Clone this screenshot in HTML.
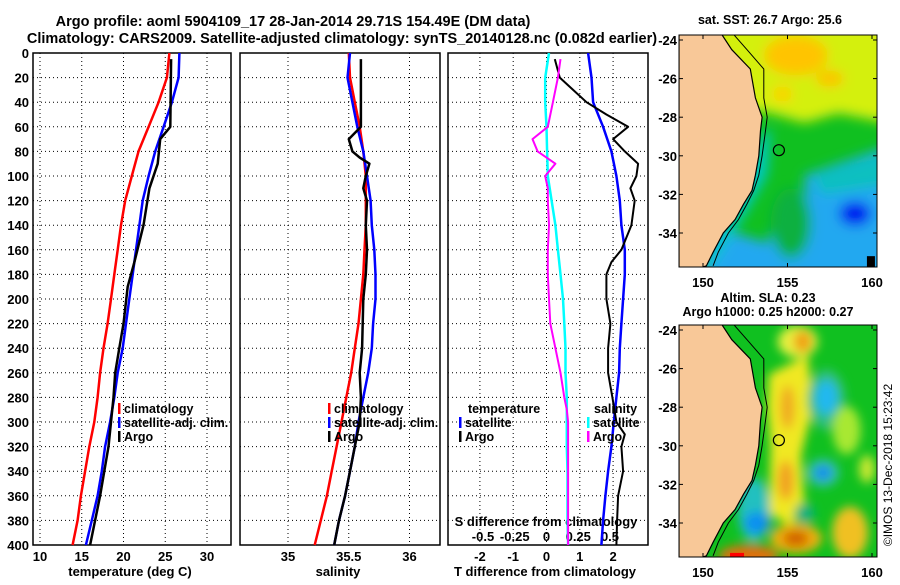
<!DOCTYPE html>
<html><head><meta charset="utf-8"><style>
html,body{margin:0;padding:0;background:#fff}
svg text{font-family:"Liberation Sans",sans-serif;font-weight:bold;font-size:13px;fill:#000}
</style></head><body>
<svg id="c" width="900" height="580" viewBox="0 0 900 580" xmlns="http://www.w3.org/2000/svg">
<defs>
<filter id="blur1" x="-50%" y="-50%" width="200%" height="200%"><feGaussianBlur stdDeviation="6"/></filter>
<filter id="blur2" x="-50%" y="-50%" width="200%" height="200%"><feGaussianBlur stdDeviation="5"/></filter>
<clipPath id="clipm1"><rect x="679" y="35" width="198" height="232"/></clipPath>
<clipPath id="clipm2"><rect x="679" y="325" width="198" height="232"/></clipPath>
</defs>
<text x="293" y="26" text-anchor="middle" style="font-size:14.5px">Argo profile: aoml 5904109_17 28-Jan-2014 29.71S 154.49E (DM data)</text>
<text x="342" y="43" text-anchor="middle" style="font-size:14.5px">Climatology: CARS2009. Satellite-adjusted climatology: synTS_20140128.nc (0.082d earlier)</text>
<text x="770" y="24" text-anchor="middle" style="font-size:12.5px">sat. SST: 26.7 Argo: 25.6</text>
<text x="768" y="302" text-anchor="middle" style="font-size:12.5px">Altim. SLA: 0.23</text>
<text x="768" y="316" text-anchor="middle" style="font-size:12.5px">Argo h1000: 0.25 h2000: 0.27</text>
<text transform="translate(892,465) rotate(-90)" text-anchor="middle" style="font-weight:normal;font-size:12px">©IMOS 13-Dec-2018 15:23:42</text>
<g id="g"></g>
</svg>
<script>
// ---- data ----
const climDepth=[0,20,40,60,80,100,120,140,160,180,200,220,240,260,280,300,320,340,360,380,400];
const tempClim=[25.5,25.2,24.2,23,21.8,21,20.2,19.7,19.3,18.9,18.5,18.1,17.6,17.2,16.9,16.5,15.9,15.4,14.9,14.5,13.9];
const tempSat=[26.7,26.6,25.8,24.8,23.8,23,22.3,21.9,21.5,21.1,20.7,20.3,19.9,19.3,18.9,18.4,17.8,17.4,16.9,16.2,15.5];
const argoTDepth=[5,60,70,90,110,140,170,190,220,240,260,280,300,320,340,360,380,400];
const tempArgo=[25.7,25.6,24.4,24.1,23.1,22.4,21.3,20.5,20,19.5,19,18.8,18.5,18.2,17.7,17.2,16.6,16.0];
const salClim=[35.50,35.51,35.55,35.59,35.62,35.64,35.64,35.64,35.63,35.62,35.60,35.58,35.55,35.52,35.48,35.44,35.40,35.36,35.32,35.27,35.22];
const salSat=[35.51,35.49,35.53,35.57,35.62,35.65,35.68,35.69,35.71,35.72,35.72,35.70,35.69,35.66,35.62,35.58,35.55,35.51,35.47,35.42,35.38];
const argoSDepth=[5,60,70,80,85,90,100,110,120,140,160,180,200,240,260,280,300,320,340,360,380,400];
const salArgo=[35.60,35.60,35.50,35.53,35.59,35.67,35.64,35.62,35.65,35.64,35.65,35.64,35.62,35.61,35.59,35.60,35.59,35.55,35.51,35.47,35.42,35.38];
const tDiffSat=[1.25,1.35,1.4,1.7,1.95,2.1,2.2,2.25,2.35,2.35,2.3,2.25,2.2,2.18,2.1,2.02,1.95,1.85,1.77,1.7,1.65];
const tDiffDepth=[5,20,30,40,50,60,70,80,90,100,110,120,140,160,170,180,200,220,240,260,280,300,310,320,340,360,380,400];
const tDiffArgo=[0.25,0.4,0.8,1.2,1.8,2.45,2.0,2.35,2.75,2.7,2.52,2.65,2.55,2.25,1.95,1.8,1.8,1.92,1.85,1.85,1.98,2.1,2.35,2.25,2.3,2.15,2.12,2.1];
const sDiffSat=[0.02,-0.01,-0.01,0,0.005,0.01,0.04,0.07,0.09,0.11,0.13,0.14,0.15,0.15,0.16,0.16,0.16,0.165,0.165,0.165,0.17];
const sDiffDepth=[5,20,40,60,70,80,90,100,110,120,140,160,180,200,220,240,260,280,290,300,320,340,360,380,400];
const sDiffArgo=[0.11,0.09,0.05,0.01,-0.11,-0.07,0.07,-0.01,0.01,0.01,0.02,0.01,0.01,0.02,0.03,0.07,0.11,0.14,0.16,0.17,0.17,0.17,0.17,0.17,0.17];
const depthTicks=[0,20,40,60,80,100,120,140,160,180,200,220,240,260,280,300,320,340,360,380,400];
const tempTicks=[10,15,20,25,30];
const salTicks=[35,35.5,36];
const tdTicks=[-2,-1,0,1,2];
const sdTicks=[-0.5,-0.25,0,0.25,0.5];
const sdTickLabels=["-0.5","-0.25","0","0.25","0.5"];
const latTicks=[-24,-26,-28,-30,-32,-34];
const lonTicks=[150,155,160];
const argoLon=154.49, argoLat=-29.71;

// ---- axes ----
const PT=53, PB=545;
const Y=d=>PT+d*(PB-PT)/400;
const XT=t=>40+(t-10)*(207-40)/20;
const XS=s=>288+(s-35)*121.5;
const XTD=t=>546.5+t*33.3;
const XSD=s=>546.5+s*127;
const LX=l=>703+(l-150)*16.9;
const LY=(l,off)=>40+off+(-24-l)*19.3;

const NS="http://www.w3.org/2000/svg";
const g=document.getElementById('g');
function el(tag,attrs,parent){const e=document.createElementNS(NS,tag);for(const k in attrs)e.setAttribute(k,attrs[k]);(parent||g).appendChild(e);return e;}
function txt(x,y,s,anchor){const e=el('text',{x:x,y:y,'text-anchor':anchor||'start'});e.textContent=s;return e;}

const panels=[{x0:33,x1:231,name:'temperature-panel'},{x0:240,x1:440,name:'salinity-panel'},{x0:448,x1:648,name:'difference-panel'}];
panels.forEach((p,i)=>{
  const r=el('rect',{x:p.x0,y:PT,width:p.x1-p.x0,height:PB-PT,fill:'#fff',stroke:'#000','stroke-width':1.5});
  
  
  depthTicks.forEach(d=>{
    if(d>0&&d<400){const l=el('line',{x1:p.x0,x2:p.x1,y1:Y(d),y2:Y(d),stroke:'#000','stroke-dasharray':'1,3','stroke-width':1});
    
    }
  });
});
function vgrid(ticks,fx,p){ticks.forEach(t=>{const x=fx(t);if(x>p.x0+1&&x<p.x1-1){const l=el('line',{x1:x,x2:x,y1:PT,y2:PB,stroke:'#000','stroke-dasharray':'1,3'});

}});}
vgrid(tempTicks,XT,panels[0]);vgrid(salTicks,XS,panels[1]);vgrid(tdTicks,XTD,panels[2]);
depthTicks.forEach(d=>{const t=txt(29,Y(d)+5,String(d),'end');

});
tempTicks.forEach(v=>{const t=txt(XT(v),561,String(v),'middle');

});
salTicks.forEach(v=>{const t=txt(XS(v),561,String(v),'middle');

});
tdTicks.forEach(v=>{const t=txt(XTD(v),561,String(v),'middle');

});
sdTicks.forEach((v,i)=>{const t=txt(XSD(v),541,sdTickLabels[i],'middle');

});
let t1=txt(130,576,'temperature (deg C)','middle');
let t2=txt(338,576,'salinity','middle');
let t3=txt(545,576,'T difference from climatology','middle');
let t4=txt(546,526,'S difference from climatology','middle');

function line(depths,vals,fx,color,w,name){
  const pts=depths.map((d,i)=>fx(vals[i]).toFixed(1)+','+Y(d).toFixed(1)).join(' ');
  const e=el('polyline',{points:pts,fill:'none',stroke:color,'stroke-width':w,'stroke-linejoin':'round'});
  
  
}
line(climDepth,tempClim,XT,'#f00',2.5,'temp-climatology-line');
line(climDepth,tempSat,XT,'#00f',2.5,'temp-satellite-line');
line(argoTDepth,tempArgo,XT,'#000',2.5,'temp-argo-line');
line(climDepth,salClim,XS,'#f00',2.5,'sal-climatology-line');
line(climDepth,salSat,XS,'#00f',2.5,'sal-satellite-line');
line(argoSDepth,salArgo,XS,'#000',2.5,'sal-argo-line');
line(climDepth,tDiffSat,XTD,'#00f',2.5,'tdiff-satellite-line');
line(tDiffDepth,tDiffArgo,XTD,'#000',2,'tdiff-argo-line');
line(climDepth,sDiffSat,XSD,'#0ff',2.5,'sdiff-satellite-line');
line(sDiffDepth,sDiffArgo,XSD,'#f0f',2,'sdiff-argo-line');

function legend(x,y,color,label,name){
  const b=el('rect',{x:x,y:y-10,width:2.5,height:11,fill:color});
  
  
  const t=txt(x+6,y,label);
  t.style.fontSize='12.5px';
  
  
}
legend(118,413,'#f00','climatology','legend-climatology');
legend(118,427,'#00f','satellite-adj. clim.','legend-satellite-adj');
legend(118,441,'#000','Argo','legend-argo');
legend(328,413,'#f00','climatology','legend-climatology-sal');
legend(328,427,'#00f','satellite-adj. clim.','legend-satellite-adj-sal');
legend(328,441,'#000','Argo','legend-argo-sal');
let lt=txt(468,413,'temperature');lt.style.fontSize='12.5px';
legend(459,427,'#00f','satellite','legend-t-satellite');
legend(459,441,'#000','Argo','legend-t-argo');
let ls=txt(594,413,'salinity');ls.style.fontSize='12.5px';
legend(587,427,'#0ff','satellite','legend-s-satellite');
legend(587,441,'#f0f','Argo','legend-s-argo');

// ---- maps ----
const coastLat=[-23.7,-24.5,-25.5,-27,-28,-28.7,-30,-31,-31.8,-32.5,-33.3,-34,-35,-35.7];
const coastLon=[151.1,151.7,152.8,153.1,153.5,153.4,153.3,153.1,152.9,152.4,151.9,151.2,150.6,150.2];
const shelfLon=[151.8,152.6,153.6,153.6,153.8,153.7,153.5,153.3,153.0,152.6,152.1,151.5,150.9,150.6];
function drawMap(off,kind){
  const top=35+off;
  const clip=off===0?'url(#clipm1)':'url(#clipm2)';
  const grp=el('g',{'clip-path':clip});
  
  
  const P=(lo,la)=>LX(lo).toFixed(1)+','+LY(la,off).toFixed(1);
  if(kind==='sst'){
    el('rect',{x:679,y:top,width:198,height:232,fill:'#10c020'},grp);
    const b=el('g',{filter:'url(#blur1)'},grp);
    el('polygon',{points:[P(150,-22),P(161,-22),P(161,-28.3),P(158,-27.8),P(156,-28.3),P(154,-27.8),P(152,-27.5)].join(' '),fill:'#d4f010'},b);
    el('ellipse',{cx:LX(155.5),cy:LY(-24.8,off),rx:32,ry:20,fill:'#ffc400'},b);
    el('ellipse',{cx:LX(157.5),cy:LY(-26,off),rx:14,ry:8,fill:'#ffc000'},b);
    el('ellipse',{cx:LX(154.7),cy:LY(-26.8,off),rx:10,ry:8,fill:'#ffd000'},b);
    el('polygon',{points:[P(156,-31),P(161,-29.5),P(161,-37),P(150,-37),P(150,-33.5),P(153.8,-34.5),P(154,-34),P(156.2,-34)].join(' '),fill:'#20a8f0'},b);
    el('polygon',{points:[P(156.5,-31),P(161,-29.8),P(161,-31.5),P(157,-32)].join(' '),fill:'#10c0c0'},b);
    el('ellipse',{cx:LX(155.2),cy:LY(-33.5,off),rx:20,ry:35,fill:'#10b040'},b);
    el('ellipse',{cx:LX(159),cy:LY(-33,off),rx:16,ry:12,fill:'#0010f0'},b);
    el('polygon',{points:[P(153.6,-28.7),P(154,-28.7),P(153.8,-31),P(152.5,-33),P(150.5,-35.7),P(150,-35.7)].join(' '),fill:'#00c8c0'},b);
    el('rect',{x:LX(159.7),y:LY(-35.2,off),width:8,height:12,fill:'#000'},grp);
  } else {
    el('rect',{x:679,y:top,width:198,height:232,fill:'#10c020'},grp);
    const b=el('g',{filter:'url(#blur2)'},grp);
    el('polygon',{points:[P(153.9,-26.3),P(156.2,-25.3),P(156.5,-28),P(155.8,-30.5),P(156,-33),P(155.2,-34.2),P(153.9,-33.5),P(154,-30),P(153.8,-28)].join(' '),fill:'#f0e820'},b);
    el('ellipse',{cx:LX(155.6),cy:LY(-24.6,off),rx:20,ry:16,fill:'#e8f040'},b);
    el('ellipse',{cx:LX(155.9),cy:LY(-24.6,off),rx:9,ry:11,fill:'#f0a010'},b);
    el('ellipse',{cx:LX(155),cy:LY(-28,off),rx:7,ry:22,fill:'#f0a820'},b);
    el('ellipse',{cx:LX(154.9),cy:LY(-31.8,off),rx:8,ry:20,fill:'#f0a020'},b);
    el('ellipse',{cx:LX(157.3),cy:LY(-27.6,off),rx:19,ry:30,fill:'#30c080'},b);
    el('ellipse',{cx:LX(157.3),cy:LY(-27.5,off),rx:11,ry:17,fill:'#20b8f0'},b);
    el('ellipse',{cx:LX(157.1),cy:LY(-31.4,off),rx:16,ry:14,fill:'#30c0b0'},b);
    el('ellipse',{cx:LX(157.1),cy:LY(-31.4,off),rx:8,ry:7,fill:'#1088f0'},b);
    el('ellipse',{cx:LX(153),cy:LY(-33.3,off),rx:16,ry:32,fill:'#20c0c0'},b);
    el('ellipse',{cx:LX(153.2),cy:LY(-34,off),rx:13,ry:11,fill:'#1090f0'},b);
    el('ellipse',{cx:LX(156),cy:LY(-33.5,off),rx:10,ry:10,fill:'#10b080'},b);
    el('ellipse',{cx:LX(155.5),cy:LY(-34.8,off),rx:26,ry:15,fill:'#f0b010'},b);
    el('ellipse',{cx:LX(155.5),cy:LY(-34.8,off),rx:13,ry:8,fill:'#d06000'},b);
    el('ellipse',{cx:LX(152.7),cy:LY(-35.7,off),rx:30,ry:11,fill:'#e07010'},b);
    el('ellipse',{cx:LX(158.7),cy:LY(-34.5,off),rx:18,ry:26,fill:'#f0c020'},b);
    el('ellipse',{cx:LX(158.5),cy:LY(-29.2,off),rx:14,ry:24,fill:'#a8e830'},b);
    el('ellipse',{cx:LX(159.7),cy:LY(-31.2,off),rx:8,ry:14,fill:'#c8e830'},b);
    el('rect',{x:LX(151.6),y:LY(-35.55,off),width:14,height:6,fill:'#f00'},grp);
  }
  // land
  let pts='679,'+(top-5)+' ';
  coastLat.forEach((la,i)=>{pts+=LX(coastLon[i]).toFixed(1)+','+LY(la,off).toFixed(1)+' ';});
  pts+='679,'+(top+240);
  const land=el('polygon',{points:pts,fill:'#f8c898',stroke:'#000','stroke-width':1.2},grp);
  
  
  const shelf=coastLat.map((la,i)=>LX(shelfLon[i]).toFixed(1)+','+LY(la,off).toFixed(1)).join(' ');
  const sh=el('polyline',{points:shelf,fill:'none',stroke:'#000','stroke-width':1},grp);
  
  
  const c=el('circle',{cx:LX(argoLon),cy:LY(argoLat,off),r:5.5,fill:'none',stroke:'#000','stroke-width':1.2});
  
  
  const fr=el('rect',{x:679,y:top,width:198,height:232,fill:'none',stroke:'#000','stroke-width':1});
  
  
  latTicks.forEach(la=>{const y=LY(la,off);
    el('line',{x1:877,x2:873,y1:y,y2:y,stroke:'#000'});el('line',{x1:679,x2:683,y1:y,y2:y,stroke:'#000'});
    const t=txt(677,y+5,String(la),'end');
    
    });
  lonTicks.forEach(lo=>{const x=LX(lo);
    el('line',{x1:x,x2:x,y1:top,y2:top+4,stroke:'#000'});el('line',{x1:x,x2:x,y1:top+232,y2:top+228,stroke:'#000'});
    const t=txt(x,top+252,String(lo),'middle');
    
    });
}
drawMap(0,'sst');
drawMap(290,'sla');
</script>
</body></html>
